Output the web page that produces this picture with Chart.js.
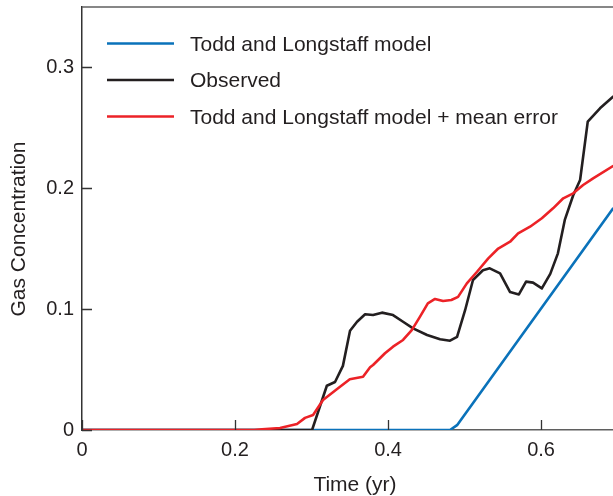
<!DOCTYPE html>
<html>
<head>
<meta charset="utf-8">
<script src="https://cdn.jsdelivr.net/npm/chart.js@4.4.1/dist/chart.umd.min.js"></script>
<style>
  html, body { margin: 0; padding: 0; background: #fff; overflow: hidden; }
  #wrap { width: 613px; height: 496px; position: relative; }
</style>
</head>
<body>
<div id="wrap"><canvas id="c" width="613" height="496"></canvas></div>
<script>
// Axis ticks
const xTicks = [0, 0.2, 0.4, 0.6];
const yTicks = [0, 0.1, 0.2, 0.3];

// Todd and Longstaff model
const modelX = [0, 0.481, 0.4902, 0.694];
const modelY = [0, 0, 0.004, 0.183];

// Observed gas concentration
const obsX = [0, 0.3007, 0.320, 0.3307, 0.341, 0.3503, 0.3595, 0.370, 0.3804, 0.392, 0.4065, 0.4196, 0.4327, 0.451, 0.468, 0.481, 0.4902, 0.5007, 0.511, 0.524, 0.533, 0.5464, 0.5595, 0.571, 0.5804, 0.5895, 0.601, 0.612, 0.622, 0.631, 0.642, 0.651, 0.661, 0.677, 0.694];
const obsY = [0, 0, 0.0366, 0.0397, 0.053, 0.082, 0.0895, 0.0956, 0.095, 0.097, 0.095, 0.0895, 0.084, 0.0785, 0.075, 0.0738, 0.077, 0.099, 0.124, 0.132, 0.1336, 0.1295, 0.114, 0.112, 0.1226, 0.1218, 0.117, 0.129, 0.146, 0.1736, 0.194, 0.2066, 0.2548, 0.2659, 0.2755];

// Todd and Longstaff model + mean error
const corrX = [0, 0.225, 0.2353, 0.2588, 0.281, 0.2915, 0.302, 0.315, 0.333, 0.350, 0.3673, 0.3765, 0.3804, 0.396, 0.4065, 0.4196, 0.431, 0.4418, 0.452, 0.4614, 0.4719, 0.4827, 0.4915, 0.503, 0.5163, 0.531, 0.544, 0.5595, 0.570, 0.5856, 0.601, 0.6157, 0.629, 0.642, 0.655, 0.668, 0.694];
const corrY = [0, 0, 0.0006, 0.0017, 0.005, 0.010, 0.0124, 0.0248, 0.0336, 0.042, 0.044, 0.0518, 0.0537, 0.0634, 0.0689, 0.0744, 0.0826, 0.0937, 0.1047, 0.1083, 0.1066, 0.1074, 0.110, 0.1212, 0.1308, 0.1419, 0.150, 0.1556, 0.1625, 0.168, 0.175, 0.1832, 0.1915, 0.1956, 0.2025, 0.208, 0.2182];

const xTitle = 'Time (yr)';
const yTitle = 'Gas Concentration';

const FONT = '"Liberation Sans", Arial, Helvetica, sans-serif';
const INK = '#231f20';

const pts = (xs, ys) => xs.map((x, i) => ({ x, y: ys[i] }));
const fmt = v => (v === 0 ? '0' : v.toFixed(1));

// Frame top edge, inward tick marks, legend and axis titles
const decorations = {
  id: 'decorations',
  afterDraw(chart) {
    const { ctx, chartArea: a, scales: { x, y } } = chart;
    ctx.save();

    ctx.strokeStyle = '#5f5f5f';
    ctx.lineWidth = 1.5;
    ctx.beginPath();
    ctx.moveTo(a.left, a.top);
    ctx.lineTo(a.right, a.top);
    ctx.stroke();

    ctx.strokeStyle = '#333';
    ctx.lineWidth = 1.3;
    ctx.beginPath();
    xTicks.forEach(v => {
      const px = Math.round(x.getPixelForValue(v)) + 0.5;
      ctx.moveTo(px, a.bottom);
      ctx.lineTo(px, a.bottom - 10);
    });
    yTicks.forEach(v => {
      const py = Math.round(y.getPixelForValue(v)) + 0.5;
      ctx.moveTo(a.left, py);
      ctx.lineTo(a.left + 10, py);
    });
    ctx.stroke();

    // legend
    ctx.font = '21px ' + FONT;
    ctx.textAlign = 'left';
    ctx.textBaseline = 'alphabetic';
    chart.data.datasets.forEach((ds, i) => {
      const ly = 43.5 + i * 36.5;
      ctx.strokeStyle = ds.borderColor;
      ctx.lineWidth = 2.5;
      ctx.beginPath();
      ctx.moveTo(107, ly);
      ctx.lineTo(174, ly);
      ctx.stroke();
      ctx.fillStyle = INK;
      ctx.fillText(ds.label, 190, ly + 7.3);
    });

    // axis titles
    ctx.fillStyle = INK;
    ctx.textAlign = 'center';
    ctx.fillText(xTitle, 355, 491);
    ctx.translate(24.5, 229);
    ctx.rotate(-Math.PI / 2);
    ctx.fillText(yTitle, 0, 0);

    ctx.restore();
  }
};

new Chart(document.getElementById('c'), {
  type: 'line',
  data: {
    datasets: [
      { label: 'Todd and Longstaff model', data: pts(modelX, modelY), borderColor: '#0a72ba', order: 2 },
      { label: 'Observed', data: pts(obsX, obsY), borderColor: '#231f20', order: 1 },
      { label: 'Todd and Longstaff model + mean error', data: pts(corrX, corrY), borderColor: '#ec2227', order: 0 }
    ]
  },
  options: {
    responsive: false,
    animation: false,
    devicePixelRatio: 1,
    layout: { padding: { top: 7, right: 0, left: 0, bottom: 0 } },
    elements: {
      point: { radius: 0 },
      line: { borderWidth: 2.6, tension: 0, borderJoinStyle: 'round', borderCapStyle: 'round', fill: false }
    },
    plugins: { legend: { display: false }, tooltip: { enabled: false } },
    scales: {
      x: {
        type: 'linear',
        min: 0,
        max: 0.694,
        afterBuildTicks: s => { s.ticks = xTicks.map(value => ({ value })); },
        afterFit: s => { s.height = 66; s.paddingLeft = 0; s.paddingRight = 0; },
        grid: { display: false, drawTicks: false },
        border: { color: '#5f5f5f', width: 1.5 },
        ticks: { color: INK, font: { size: 20, family: FONT }, padding: 8, maxRotation: 0, autoSkip: false, callback: fmt }
      },
      y: {
        type: 'linear',
        min: 0,
        max: 0.3496,
        afterBuildTicks: s => { s.ticks = yTicks.map(value => ({ value })); },
        afterFit: s => { s.width = 82; s.paddingTop = 0; s.paddingBottom = 0; },
        grid: { display: false, drawTicks: false },
        border: { color: '#333', width: 1.5 },
        ticks: { color: INK, font: { size: 20, family: FONT }, padding: 8, autoSkip: false, callback: fmt }
      }
    }
  },
  plugins: [decorations]
});
</script>
</body>
</html>
